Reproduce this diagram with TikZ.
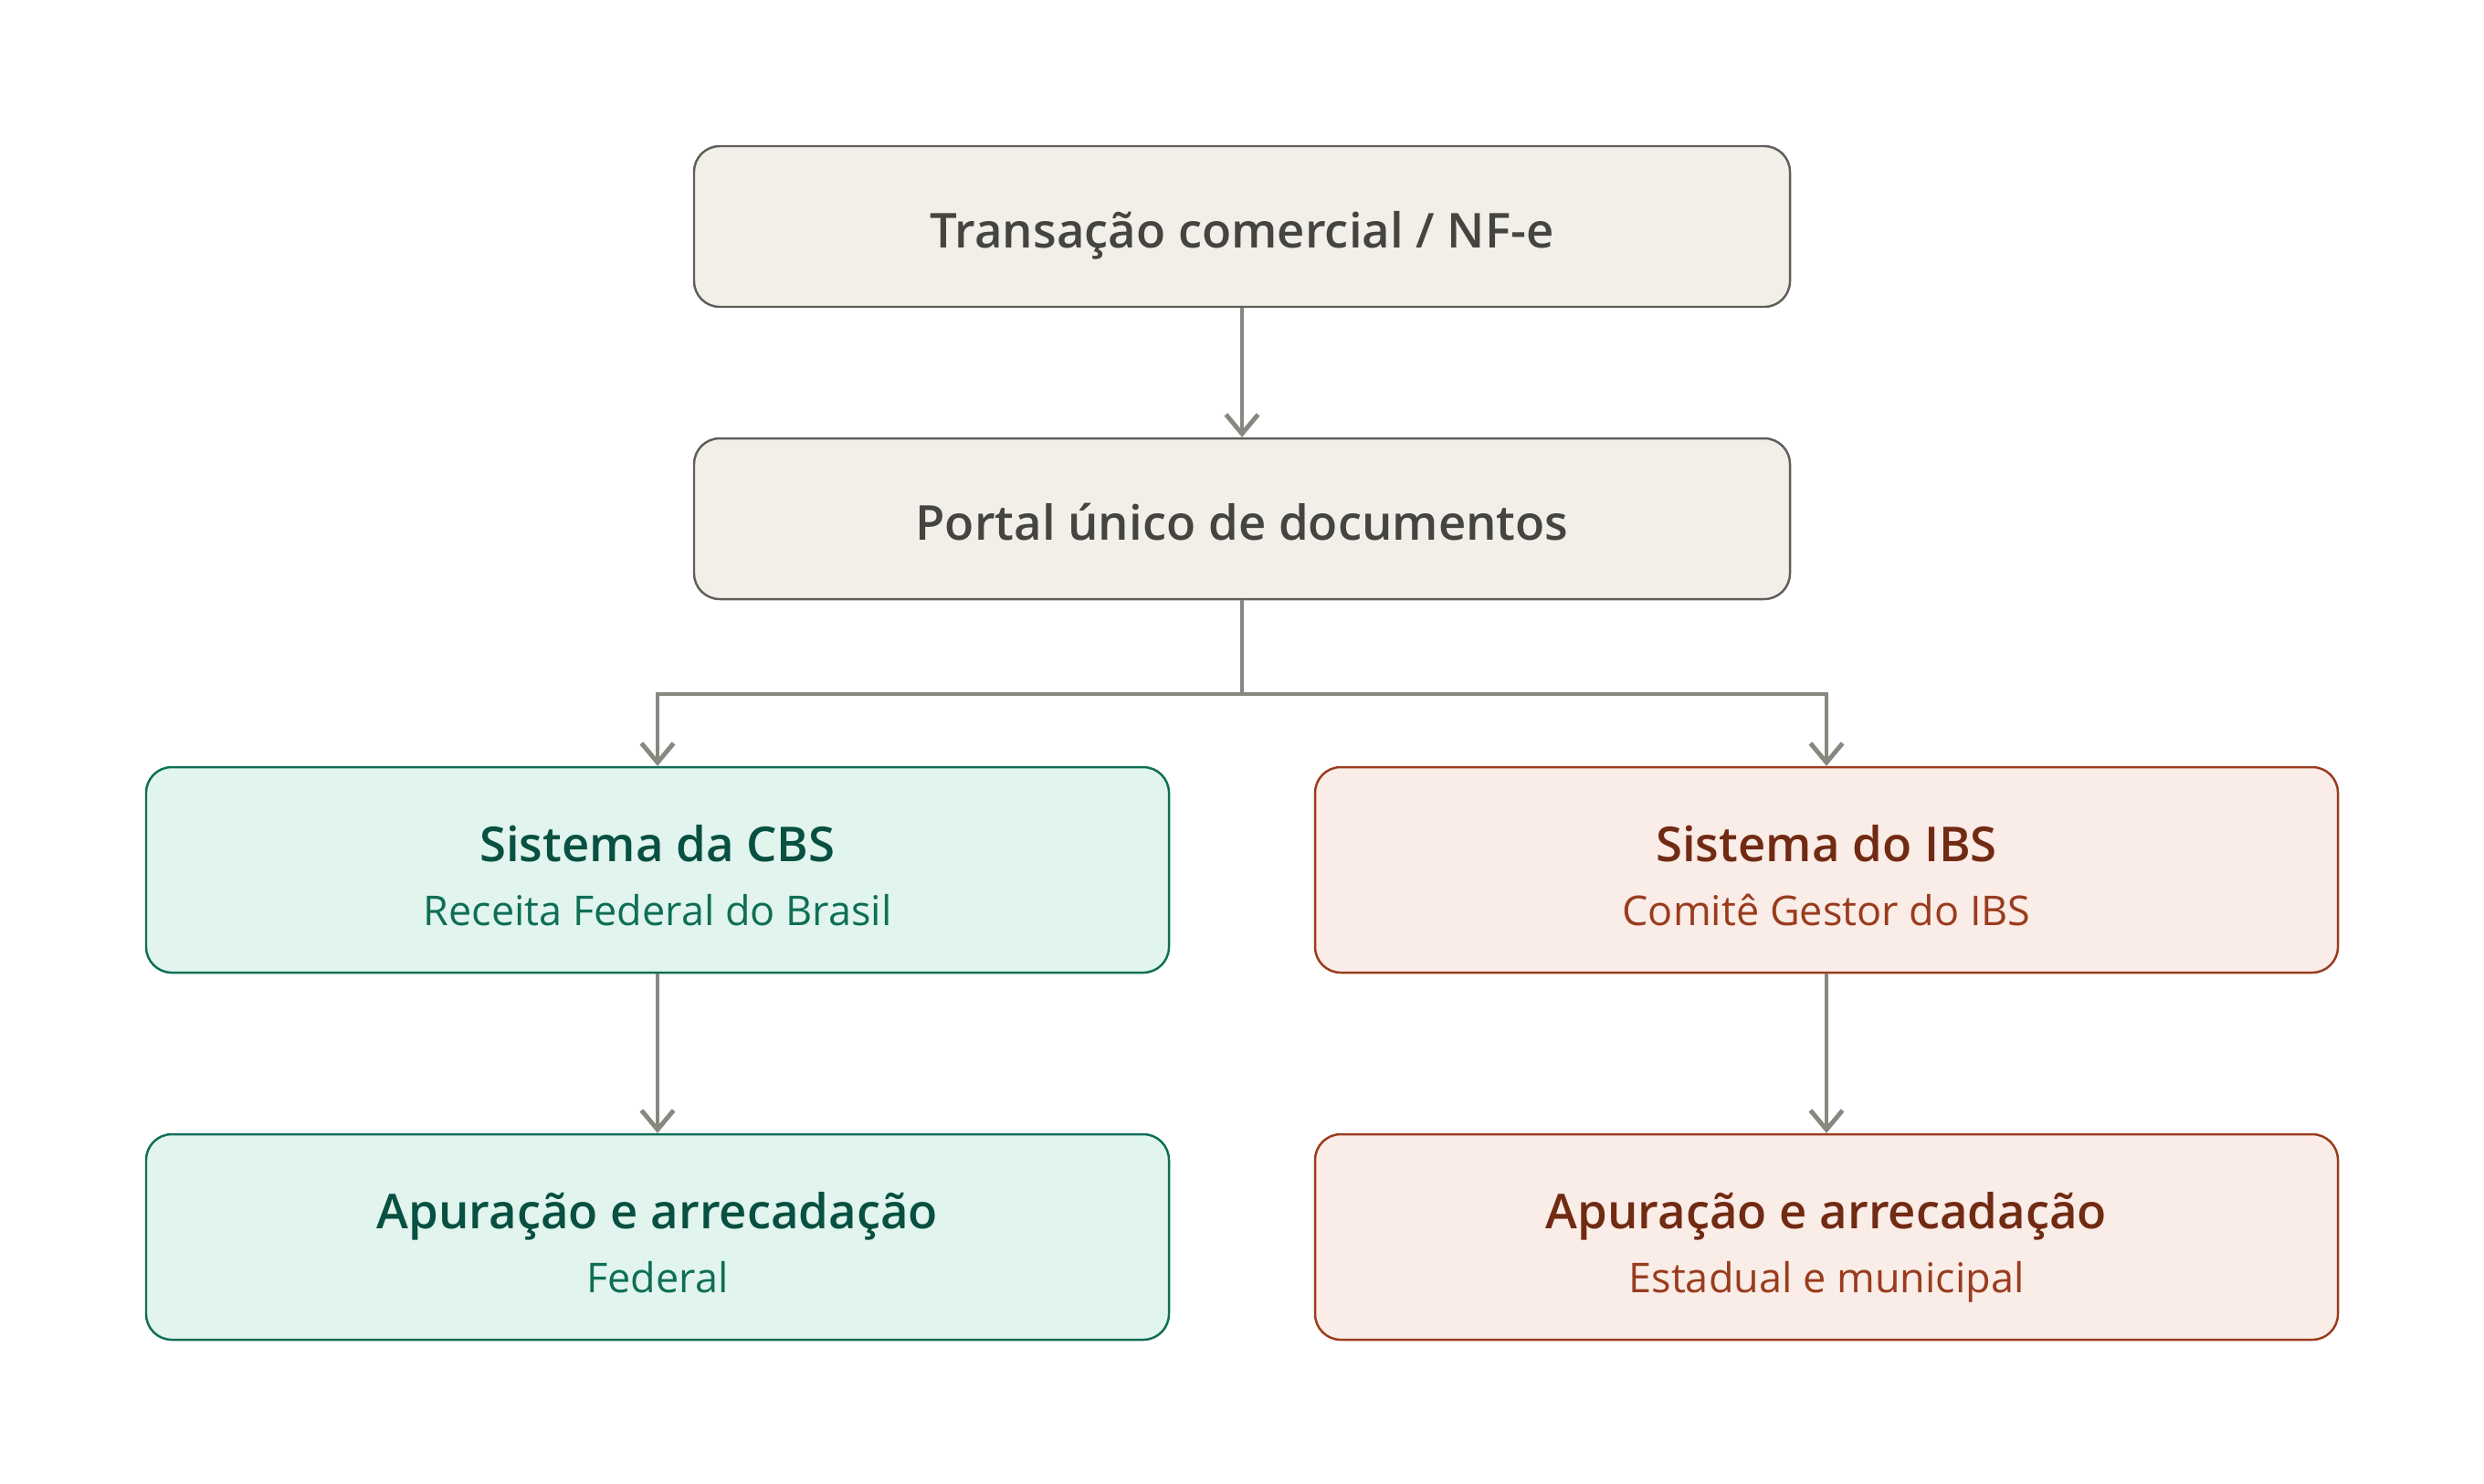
\documentclass[tikz,border=0pt]{standalone}
\usepackage{fontspec}
\setmainfont{Open Sans}[BoldFont={Open Sans Semibold}]
\usepackage{xcolor}
\usepackage{tikz}
\usetikzlibrary{arrows.meta,positioning,calc}

\definecolor{grayfill}{HTML}{F2EFE9}
\definecolor{grayline}{HTML}{5F5E5A}
\definecolor{graytext}{HTML}{444441}
\definecolor{greenfill}{HTML}{E1F5EE}
\definecolor{greenline}{HTML}{0F6E56}
\definecolor{greentext}{HTML}{085041}
\definecolor{redfill}{HTML}{FAECE7}
\definecolor{redline}{HTML}{993C1D}
\definecolor{redtext}{HTML}{712B13}
\definecolor{connline}{HTML}{888780}

\tikzset{
  box/.style={draw,rectangle,rounded corners=8pt,line width=0.7pt,align=center,inner sep=0pt,
    font=\fontsize{15pt}{20pt}\selectfont\bfseries},
  topbox/.style={box,fill=grayfill,draw=grayline,text=graytext,minimum width=12cm,minimum height=1.76cm,
    text height=13.6pt,text depth=0pt},
  sysbox/.style={box,minimum width=11.2cm,minimum height=2.25cm,text height=34.6pt,text depth=0pt},
  cbsbox/.style={sysbox,fill=greenfill,draw=greenline,text=greentext},
  ibsbox/.style={sysbox,fill=redfill,draw=redline,text=redtext},
  conn/.style={draw=connline,line width=1.4pt,-{Straight Barb[length=6pt,width=10pt,line width=1.4pt]}}
}
\newcommand{\boxtext}[3]{#1\\{\fontsize{12.8pt}{15pt}\selectfont\mdseries\color{#3}#2}}

\begin{document}
\begin{tikzpicture}
  \useasboundingbox (0,0) rectangle (27.2,-16.24);

  % Top flow
  \node[topbox] (nfe) at (13.6,-2.48) {Transação comercial / NF-e};
  \node[topbox] (portal) at (13.6,-5.68) {Portal único de documentos};

  % Systems
  \node[cbsbox] (cbs) at (7.2,-9.525) {\boxtext{Sistema da CBS}{Receita Federal do Brasil}{greenline}};
  \node[ibsbox] (ibs) at (20,-9.525) {\boxtext{Sistema do IBS}{Comitê Gestor do IBS}{redline}};

  % Collection
  \node[cbsbox] (cbsap) at (7.2,-13.545) {\boxtext{Apuração e arrecadação}{Federal}{greenline}};
  \node[ibsbox] (ibsap) at (20,-13.545) {\boxtext{Apuração e arrecadação}{Estadual e municipal}{redline}};

  % Connectors
  \coordinate (split) at (13.6,-7.6);
  \draw[conn] (nfe) -- (portal);
  \draw[conn] (portal.south) -- (split) -| (cbs.north);
  \draw[conn] (portal.south) -- (split) -| (ibs.north);
  \draw[conn] (cbs) -- (cbsap);
  \draw[conn] (ibs) -- (ibsap);
\end{tikzpicture}
\end{document}
